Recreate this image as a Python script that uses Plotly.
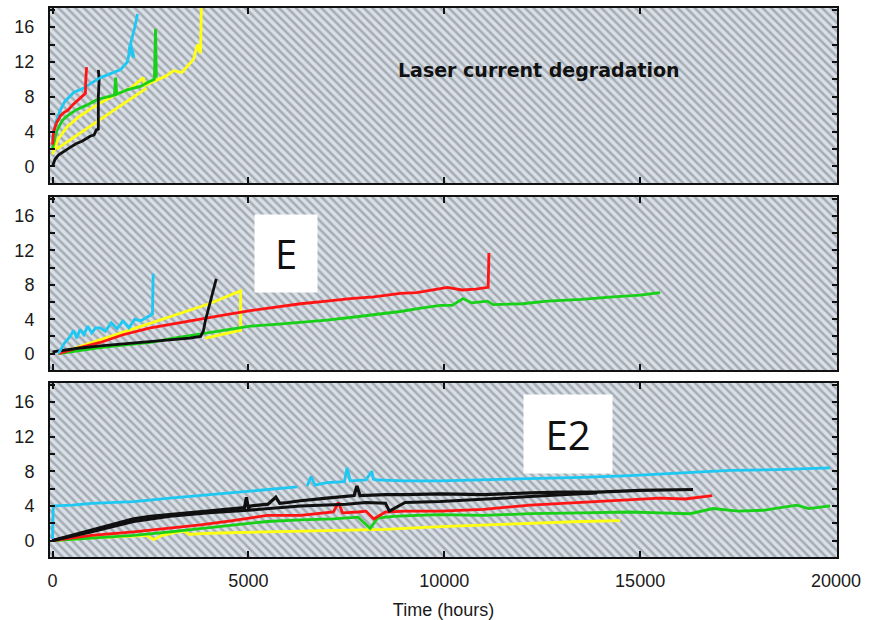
import plotly.graph_objects as go

# ---------------- data (hours, current increase) ----------------
# Panel A (top)
a_black_t = [0, 60, 150, 300, 450, 600, 750, 900, 970, 1060, 1120, 1170, 1170, 1190, 1170]
a_black_v = [0.0, 0.8, 1.3, 1.8, 2.2, 2.6, 2.9, 3.3, 3.5, 3.6, 4.2, 4.3, 8.0, 10.0, 11.1]
a_red_t = [0, 30, 100, 200, 290, 400, 520, 640, 740, 840, 850, 870]
a_red_v = [2.5, 4.0, 5.0, 5.8, 6.2, 6.5, 7.1, 7.6, 8.0, 8.4, 10.0, 11.4]
a_cyan_t = [0, 80, 200, 320, 540, 800, 1000, 1220, 1450, 1730, 1910, 2000, 2080, 1960, 2100, 2170]
a_cyan_v = [3.0, 5.0, 6.5, 7.5, 8.5, 9.0, 9.6, 10.2, 10.6, 11.1, 12.0, 14.0, 12.5, 13.5, 16.0, 17.5]
a_green_t = [0, 100, 250, 380, 600, 900, 1150, 1400, 1580, 1610, 1640, 1900, 2245, 2450, 2600, 2630, 2650]
a_green_v = [2.0, 4.0, 5.3, 5.8, 6.5, 7.1, 7.7, 8.0, 8.2, 10.2, 8.3, 8.8, 9.2, 9.7, 10.0, 15.8, 10.2]
a_yellow_t = [0, 150, 380, 700, 1000, 1220, 1600, 2000, 2320, 2350, 2600, 2900, 3090, 3300, 3600, 3700, 3780, 3800]
a_yellow_v = [1.4, 3.2, 4.6, 5.8, 6.7, 7.3, 8.2, 9.0, 10.2, 9.3, 9.8, 10.4, 11.0, 10.8, 12.3, 14.0, 13.0, 19.0]
a_yellow2_t = [100, 2400]
a_yellow2_v = [2.0, 9.0]

# Panel B (middle, "E")
b_cyan_t = [150, 300, 450, 540, 620, 700, 800, 900, 1000, 1100, 1220, 1350, 1500, 1650, 1800, 1950, 2100, 2245, 2400, 2550, 2560, 2570]
b_cyan_v = [0.0, 1.2, 2.0, 2.7, 1.8, 2.8, 2.2, 3.2, 2.4, 3.0, 3.0, 2.6, 3.6, 2.9, 3.8, 3.0, 4.0, 3.8, 4.2, 4.6, 7.0, 9.3]
b_yellow_t = [150, 1000, 2000, 3000, 4000, 4800, 4800, 3900]
b_yellow_v = [0.0, 1.3, 2.8, 4.3, 5.8, 7.3, 2.7, 1.8]
b_black_t = [0, 150, 600, 1220, 2000, 2930, 3500, 3780, 3850, 3900, 4030, 4180]
b_black_v = [0.2, 0.3, 0.6, 0.9, 1.2, 1.5, 1.8, 2.0, 2.6, 3.8, 6.1, 8.7]
b_red_t = [150, 600, 1220, 1800, 2500, 3100, 3780, 4400, 5050, 5700, 6330, 7000, 7600, 8200, 8880,
           9300, 9640, 10080, 10450, 10800, 11120, 11130, 11140]
b_red_v = [0.0, 0.6, 1.3, 2.2, 3.0, 3.5, 4.0, 4.5, 5.0, 5.4, 5.8, 6.1, 6.4, 6.6, 7.0,
           7.1, 7.4, 7.7, 7.4, 7.5, 7.7, 9.5, 11.7]
b_green_t = [150, 600, 1220, 1800, 2500, 3100, 3780, 4400, 5050, 5700, 6330, 7000, 7600, 8200, 8880,
             9400, 9900, 10200, 10480, 10700, 11100, 11250, 12000, 12630, 13500, 14310, 15000, 15510]
b_green_v = [0.0, 0.3, 0.7, 1.0, 1.3, 1.8, 2.3, 2.8, 3.2, 3.4, 3.6, 3.9, 4.2, 4.5, 4.9,
             5.3, 5.6, 5.6, 6.4, 5.9, 6.1, 5.7, 5.8, 6.1, 6.3, 6.6, 6.8, 7.1]

# Panel C (bottom, "E2")
c_cyan_t = [0, 20, 40, 500, 1000, 2070, 3000, 3780, 5000, 6250, None, 6500, 6600, 6700, 7000, 7450, 7520,
            7600, 8000, 8150, 8190, 8250, 9000, 9900, 11000, 12190, 13500, 14740, 16000, 17300, 18500, 19850]
c_cyan_v = [0.2, 4.1, 4.0, 4.1, 4.3, 4.5, 4.9, 5.2, 5.7, 6.2, None, 6.3, 7.4, 6.4, 6.7, 6.8, 8.4,
            6.9, 7.0, 8.0, 7.1, 7.0, 6.9, 6.9, 7.0, 7.1, 7.3, 7.5, 7.8, 8.1, 8.2, 8.4]
c_black1_t = [0, 500, 1000, 1500, 2070, 2500, 3000, 3780, 4500, 4900, 4950, 5000, 5050, 5500, 5700, 5800,
              6000, 6330, 7000, 7700, 7770, 7850, 8500, 9000, 9900, 11000, 12190, 13000, 13900, 15000, 16350]
c_black1_v = [0.0, 0.6, 1.2, 1.8, 2.5, 2.8, 3.0, 3.3, 3.6, 3.8, 5.0, 3.7, 4.0, 4.2, 5.0, 4.3,
              4.4, 4.6, 4.9, 5.2, 6.3, 5.2, 5.3, 5.3, 5.4, 5.3, 5.5, 5.6, 5.6, 5.8, 5.9]
c_black2_t = [0, 1000, 2070, 3000, 4000, 5000, 6330, 7500, 8000, 8500, 8600, 9000, 9900, 11000, 12190, 13000, 13900]
c_black2_v = [0.0, 1.0, 2.2, 2.8, 3.2, 3.5, 4.0, 4.2, 4.4, 4.3, 3.4, 4.4, 4.5, 4.8, 5.1, 5.3, 5.5]
c_red_t = [0, 500, 1000, 2070, 2900, 3780, 4600, 5480, 6330, 7170, 7300, 7400, 7800, 8000, 8200, 8500,
           9000, 9900, 11000, 12190, 13500, 14740, 15500, 16150, 16500, 16840]
c_red_v = [0.0, 0.3, 0.6, 1.0, 1.4, 1.8, 2.3, 2.9, 2.9, 3.3, 4.4, 3.2, 3.3, 3.4, 2.5, 3.3,
           3.4, 3.4, 3.6, 4.1, 4.4, 4.7, 4.9, 4.8, 5.0, 5.2]
c_green_t = [0, 1000, 2070, 3000, 3780, 4600, 5480, 6330, 7170, 7800, 8110, 8300, 8700, 9300, 9900, 11000,
             12190, 13500, 14740, 15500, 16270, 16860, 17500, 18140, 18600, 19000, 19300, 19850]
c_green_v = [0.0, 0.3, 0.6, 1.0, 1.4, 1.8, 2.2, 2.4, 2.5, 2.7, 1.4, 2.6, 2.8, 2.9, 3.0, 2.9,
             3.1, 3.2, 3.3, 3.2, 3.1, 3.7, 3.4, 3.5, 3.8, 4.1, 3.7, 4.0]
c_yellow_t = [0, 1000, 2070, 2400, 2580, 2800, 3100, 3350, 3500, 3780, 4500, 5480, 6500, 7170, 8500,
              9900, 11000, 12190, 13500, 14490]
c_yellow_v = [0.0, 0.3, 0.5, 0.6, 0.1, 0.6, 0.9, 1.1, 0.7, 0.8, 0.9, 1.0, 1.1, 1.2, 1.3,
              1.6, 1.8, 2.0, 2.2, 2.3]

x_tickvals = [0, 5000, 10000, 15000, 20000]
x_ticktext = ["0", "5000", "10000", "15000", "20000"]
y_tickvals = [0, 2, 4, 6, 8, 10, 12, 14, 16, 18]
y_ticktext = ["0", "", "4", "", "8", "", "12", "", "16", ""]

panel_labels = ["Laser current degradation", "E", "E2"]

# ---------------- styling ----------------
X_RANGE = [-64, 20025]
Y_RANGE = [-1.9, 18.2]
COL = {"cyan": "#1ec8f2", "red": "#ff1414", "yellow": "#ffff10", "green": "#18d018", "black": "#101010"}
FONT = "Liberation Sans, Arial, sans-serif"

fig = go.Figure()

def hatch(xa, ya):
    fig.add_trace(go.Scatter(
        x=[X_RANGE[0], X_RANGE[1], X_RANGE[1], X_RANGE[0], X_RANGE[0]],
        y=[Y_RANGE[0], Y_RANGE[0], Y_RANGE[1], Y_RANGE[1], Y_RANGE[0]],
        xaxis=xa, yaxis=ya, mode="lines", line=dict(width=0), fill="toself",
        fillcolor="rgba(0,0,0,0)",
        fillpattern=dict(shape="\\", size=6, solidity=0.42, fgcolor="#737880", bgcolor="#d9e0e7"),
        hoverinfo="skip", showlegend=False))

def line(t, v, color, xa, ya, w=2.8):
    fig.add_trace(go.Scatter(x=t, y=v, xaxis=xa, yaxis=ya, mode="lines",
                             line=dict(color=COL[color], width=w), connectgaps=False,
                             hoverinfo="skip", showlegend=False))

# top
hatch("x", "y")
line(a_yellow2_t, a_yellow2_v, "yellow", "x", "y")
line(a_yellow_t, a_yellow_v, "yellow", "x", "y")
line(a_green_t, a_green_v, "green", "x", "y")
line(a_black_t, a_black_v, "black", "x", "y")
line(a_cyan_t, a_cyan_v, "cyan", "x", "y")
line(a_red_t, a_red_v, "red", "x", "y")
# middle
hatch("x2", "y2")
line(b_yellow_t, b_yellow_v, "yellow", "x2", "y2")
line(b_green_t, b_green_v, "green", "x2", "y2")
line(b_red_t, b_red_v, "red", "x2", "y2")
line(b_black_t, b_black_v, "black", "x2", "y2")
line(b_cyan_t, b_cyan_v, "cyan", "x2", "y2")
# bottom
hatch("x3", "y3")
line(c_yellow_t, c_yellow_v, "yellow", "x3", "y3")
line(c_green_t, c_green_v, "green", "x3", "y3")
line(c_red_t, c_red_v, "red", "x3", "y3")
line(c_black2_t, c_black2_v, "black", "x3", "y3", 3)
line(c_black1_t, c_black1_v, "black", "x3", "y3", 3.2)
line(c_cyan_t, c_cyan_v, "cyan", "x3", "y3")

domains = {"": [0.6812, 1.0], "2": [0.3406, 0.6557], "3": [0.0, 0.3169]}
layout = dict(
    width=876, height=620,
    margin=dict(l=50, r=39, t=8, b=63, autoexpand=False),
    paper_bgcolor="white", plot_bgcolor="#d9e0e7",
    showlegend=False, hovermode=False,
    font=dict(family=FONT, size=18, color="#1a1a1a"),
)
for k, dom in domains.items():
    xa = "xaxis" + k
    ya = "yaxis" + k
    layout[xa] = dict(
        domain=[0, 1], range=X_RANGE, anchor="y" + k, automargin=False,
        tickvals=x_tickvals, ticktext=x_ticktext, showticklabels=(k == "3"),
        ticks="inside", ticklen=6, tickwidth=1.5, tickcolor="#111",
        showline=True, linecolor="#111", linewidth=2, mirror="ticks",
        showgrid=False, zeroline=False, ticklabelstandoff=6,
        tickfont=dict(family=FONT, size=18, color="#1a1a1a"),
    )
    layout[ya] = dict(
        domain=dom, range=Y_RANGE, anchor="x" + k, automargin=False,
        tickvals=y_tickvals, ticktext=y_ticktext,
        ticks="inside", ticklen=5, tickwidth=1.5, tickcolor="#111",
        showline=True, linecolor="#111", linewidth=2, mirror="ticks",
        showgrid=False, zeroline=False, ticklabelstandoff=10,
        tickfont=dict(family=FONT, size=18, color="#1a1a1a"),
    )
layout["xaxis3"]["title"] = dict(text="Time (hours)", font=dict(family=FONT, size=18), standoff=14)
fig.update_layout(**layout)

fig.add_annotation(xref="x", yref="y", x=12420, y=11.1, text=panel_labels[0], showarrow=False,
                   xanchor="center", yanchor="middle",
                   font=dict(family="DejaVu Sans", size=19, weight="bold", color="#111"))
fig.add_annotation(xref="paper", yref="paper", x=0.300, y=0.553, text=panel_labels[1], showarrow=False,
                   xanchor="center", yanchor="middle",
                   bgcolor="white", width=62, height=77, borderpad=0,
                   font=dict(family="Open Sans, sans-serif", size=40, color="#111"))
fig.add_annotation(xref="paper", yref="paper", x=0.658, y=0.224, text=panel_labels[2], showarrow=False,
                   xanchor="center", yanchor="middle",
                   bgcolor="white", width=88, height=78, borderpad=0,
                   font=dict(family="Open Sans, sans-serif", size=40, color="#111"))

fig.write_html("out.html", config={"displayModeBar": False, "displaylogo": False},
               post_script="document.body.style.margin='0';")
